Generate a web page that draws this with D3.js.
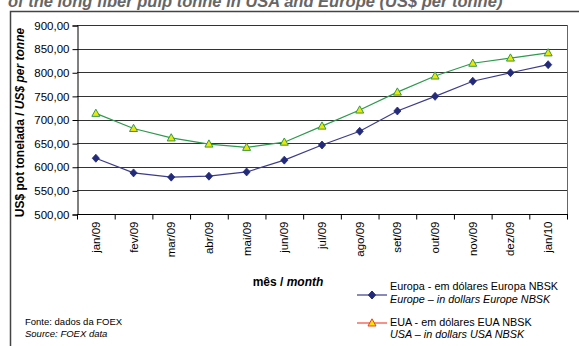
<!DOCTYPE html>
<html>
<head>
<meta charset="utf-8">
<script src="https://cdn.jsdelivr.net/npm/d3@7"></script>
<style>
  html, body { margin: 0; padding: 0; background: #fff; }
  svg { display: block; font-family: "Liberation Sans", Arial, sans-serif; }
</style>
</head>
<body>
<svg id="chart" width="579" height="346"></svg>
<script>
// Monthly NBSK pulp prices, US$ per tonne
const months = ["jan/09", "fev/09", "mar/09", "abr/09", "mai/09", "jun/09", "jul/09",
                "ago/09", "set/09", "out/09", "nov/09", "dez/09", "jan/10"];
const europe = [618, 587, 578, 580, 589, 614, 646, 675, 718, 749, 781, 799, 816];
const usa    = [713, 681, 661, 648, 641, 652, 686, 720, 758, 792, 819, 830, 841];
const yTicks = [500, 550, 600, 650, 700, 750, 800, 850, 900];

const svg = d3.select("#chart");
const plot = { left: 77, right: 567, top: 25, bottom: 214 };

const fmt = v => d3.format(".2f")(v).replace(".", ",");

const x = d3.scaleBand().domain(months).range([plot.left, plot.right]).paddingInner(0).paddingOuter(0);
const y = d3.scaleLinear().domain([500, 900]).range([plot.bottom, plot.top]);

// Heading (partly above the frame, as in the report)
svg.append("text")
  .attr("x", 8).attr("y", 7)
  .attr("font-size", 16.5).attr("font-weight", "bold").attr("font-style", "italic")
  .attr("fill", "#666")
  .text("of the long fiber pulp tonne in USA and Europe  (US$ per tonne)");

// Outer frame
svg.append("path")
  .attr("d", `M10.5,${346} V11.5 H579`)
  .attr("fill", "none").attr("stroke", "#444").attr("stroke-width", 1.5);

// Horizontal gridlines
svg.append("g").selectAll("line").data(yTicks.slice(1)).join("line")
  .attr("x1", plot.left).attr("x2", plot.right)
  .attr("y1", d => Math.round(y(d)) + 0.5).attr("y2", d => Math.round(y(d)) + 0.5)
  .attr("stroke", "#333").attr("stroke-width", 1);

// Plot border on the right
svg.append("line")
  .attr("x1", plot.right + 0.5).attr("x2", plot.right + 0.5)
  .attr("y1", plot.top).attr("y2", plot.bottom)
  .attr("stroke", "#666").attr("stroke-width", 1);

// Y axis
const yAxis = d3.axisLeft(y).tickValues(yTicks).tickFormat(fmt).tickSize(5).tickPadding(3);
const gy = svg.append("g").attr("transform", `translate(${plot.left + 0.5},0.5)`).call(yAxis);
gy.select(".domain").attr("stroke", "#000");
gy.selectAll(".tick line").attr("stroke", "#000");
gy.selectAll(".tick text").attr("font-size", 11.5).attr("fill", "#000")
  .attr("font-family", "Liberation Sans, Arial, sans-serif");

// X axis: ticks on category boundaries, labels rotated
const gx = svg.append("g").attr("transform", `translate(0,${plot.bottom + 0.5})`);
gx.append("line").attr("x1", plot.left).attr("x2", plot.right + 1)
  .attr("y1", 0).attr("y2", 0).attr("stroke", "#000");
const bounds = months.map(m => x(m)).concat([plot.right]);
gx.selectAll("line.tk").data(bounds).join("line").attr("class", "tk")
  .attr("x1", d => d + 0.5).attr("x2", d => d + 0.5).attr("y1", 0).attr("y2", 5)
  .attr("stroke", "#000");
gx.selectAll("text").data(months).join("text")
  .attr("transform", d => `translate(${x(d) + x.bandwidth() / 2 + 4},7) rotate(-90)`)
  .attr("text-anchor", "end").attr("font-size", 11.5).attr("fill", "#000")
  .text(d => d);

// Series
const line = d3.line().x((d, i) => x(months[i]) + x.bandwidth() / 2).y(d => y(d));

svg.append("path").datum(usa).attr("d", line)
  .attr("fill", "none").attr("stroke", "#2e9a4e").attr("stroke-width", 1.2);
svg.append("path").datum(europe).attr("d", line)
  .attr("fill", "none").attr("stroke", "#3c3c8c").attr("stroke-width", 1.2);

// Marker shapes: small upright triangle, square-ish diamond
const triPath = "M0,-4.2 L4,3 L-4,3 Z";
const diaPath = "M0,-4 L3.6,0 L0,4 L-3.6,0 Z";

svg.append("g").selectAll("path").data(usa).join("path")
  .attr("transform", (d, i) => `translate(${x(months[i]) + x.bandwidth() / 2},${y(d)})`)
  .attr("d", triPath).attr("fill", "#f2e600").attr("stroke", "#2e9a4e").attr("stroke-width", 1);
svg.append("g").selectAll("path").data(europe).join("path")
  .attr("transform", (d, i) => `translate(${x(months[i]) + x.bandwidth() / 2},${y(d)})`)
  .attr("d", diaPath).attr("fill", "#232a7a").attr("stroke", "#232a7a").attr("stroke-width", 0.8);

// Y axis title
const yt = svg.append("text")
  .attr("transform", `translate(24,${(plot.top + plot.bottom) / 2 + 3}) rotate(-90)`)
  .attr("text-anchor", "middle").attr("font-size", 12).attr("font-weight", "bold").attr("fill", "#000");
yt.append("tspan").text("US$ pot tonelada / ");
yt.append("tspan").attr("font-style", "italic").text("US$ per tonne");

// X axis title
const xt = svg.append("text")
  .attr("x", 288).attr("y", 286).attr("text-anchor", "middle")
  .attr("font-size", 12).attr("font-weight", "bold").attr("fill", "#000");
xt.append("tspan").text("mês / ");
xt.append("tspan").attr("font-style", "italic").text("month");

// Source note
svg.append("text").attr("x", 25).attr("y", 325).attr("font-size", 9.5).attr("fill", "#000")
  .text("Fonte: dados da FOEX");
svg.append("text").attr("x", 25).attr("y", 337).attr("font-size", 9.5).attr("font-style", "italic").attr("fill", "#000")
  .text("Source: FOEX data");

// Legend
const legend = [
  { pt: "Europa - em dólares Europa NBSK", en: "Europe \u2013 in dollars Europe NBSK",
    ly: 295, t1: 290, t2: 303, stroke: "#3c3c8c", sym: diaPath, fill: "#232a7a", mstroke: "#232a7a" },
  { pt: "EUA - em dólares EUA NBSK", en: "USA \u2013 in dollars USA NBSK",
    ly: 323, t1: 326, t2: 338, stroke: "#f04a3a", sym: triPath, fill: "#f2e600", mstroke: "#e8402a" }
];
const lg = svg.append("g").selectAll("g").data(legend).join("g");
lg.append("line").attr("x1", 357).attr("x2", 387).attr("y1", d => d.ly).attr("y2", d => d.ly)
  .attr("stroke", d => d.stroke).attr("stroke-width", 1.2);
lg.append("path").attr("transform", d => `translate(372,${d.ly})`)
  .attr("d", d => d.sym).attr("fill", d => d.fill).attr("stroke", d => d.mstroke).attr("stroke-width", 1);
lg.append("text").attr("x", 390).attr("y", d => d.t1).attr("font-size", 10.8).attr("fill", "#000")
  .text(d => d.pt);
lg.append("text").attr("x", 390).attr("y", d => d.t2).attr("font-size", 10.8).attr("font-style", "italic").attr("fill", "#000")
  .text(d => d.en);
</script>
</body>
</html>
